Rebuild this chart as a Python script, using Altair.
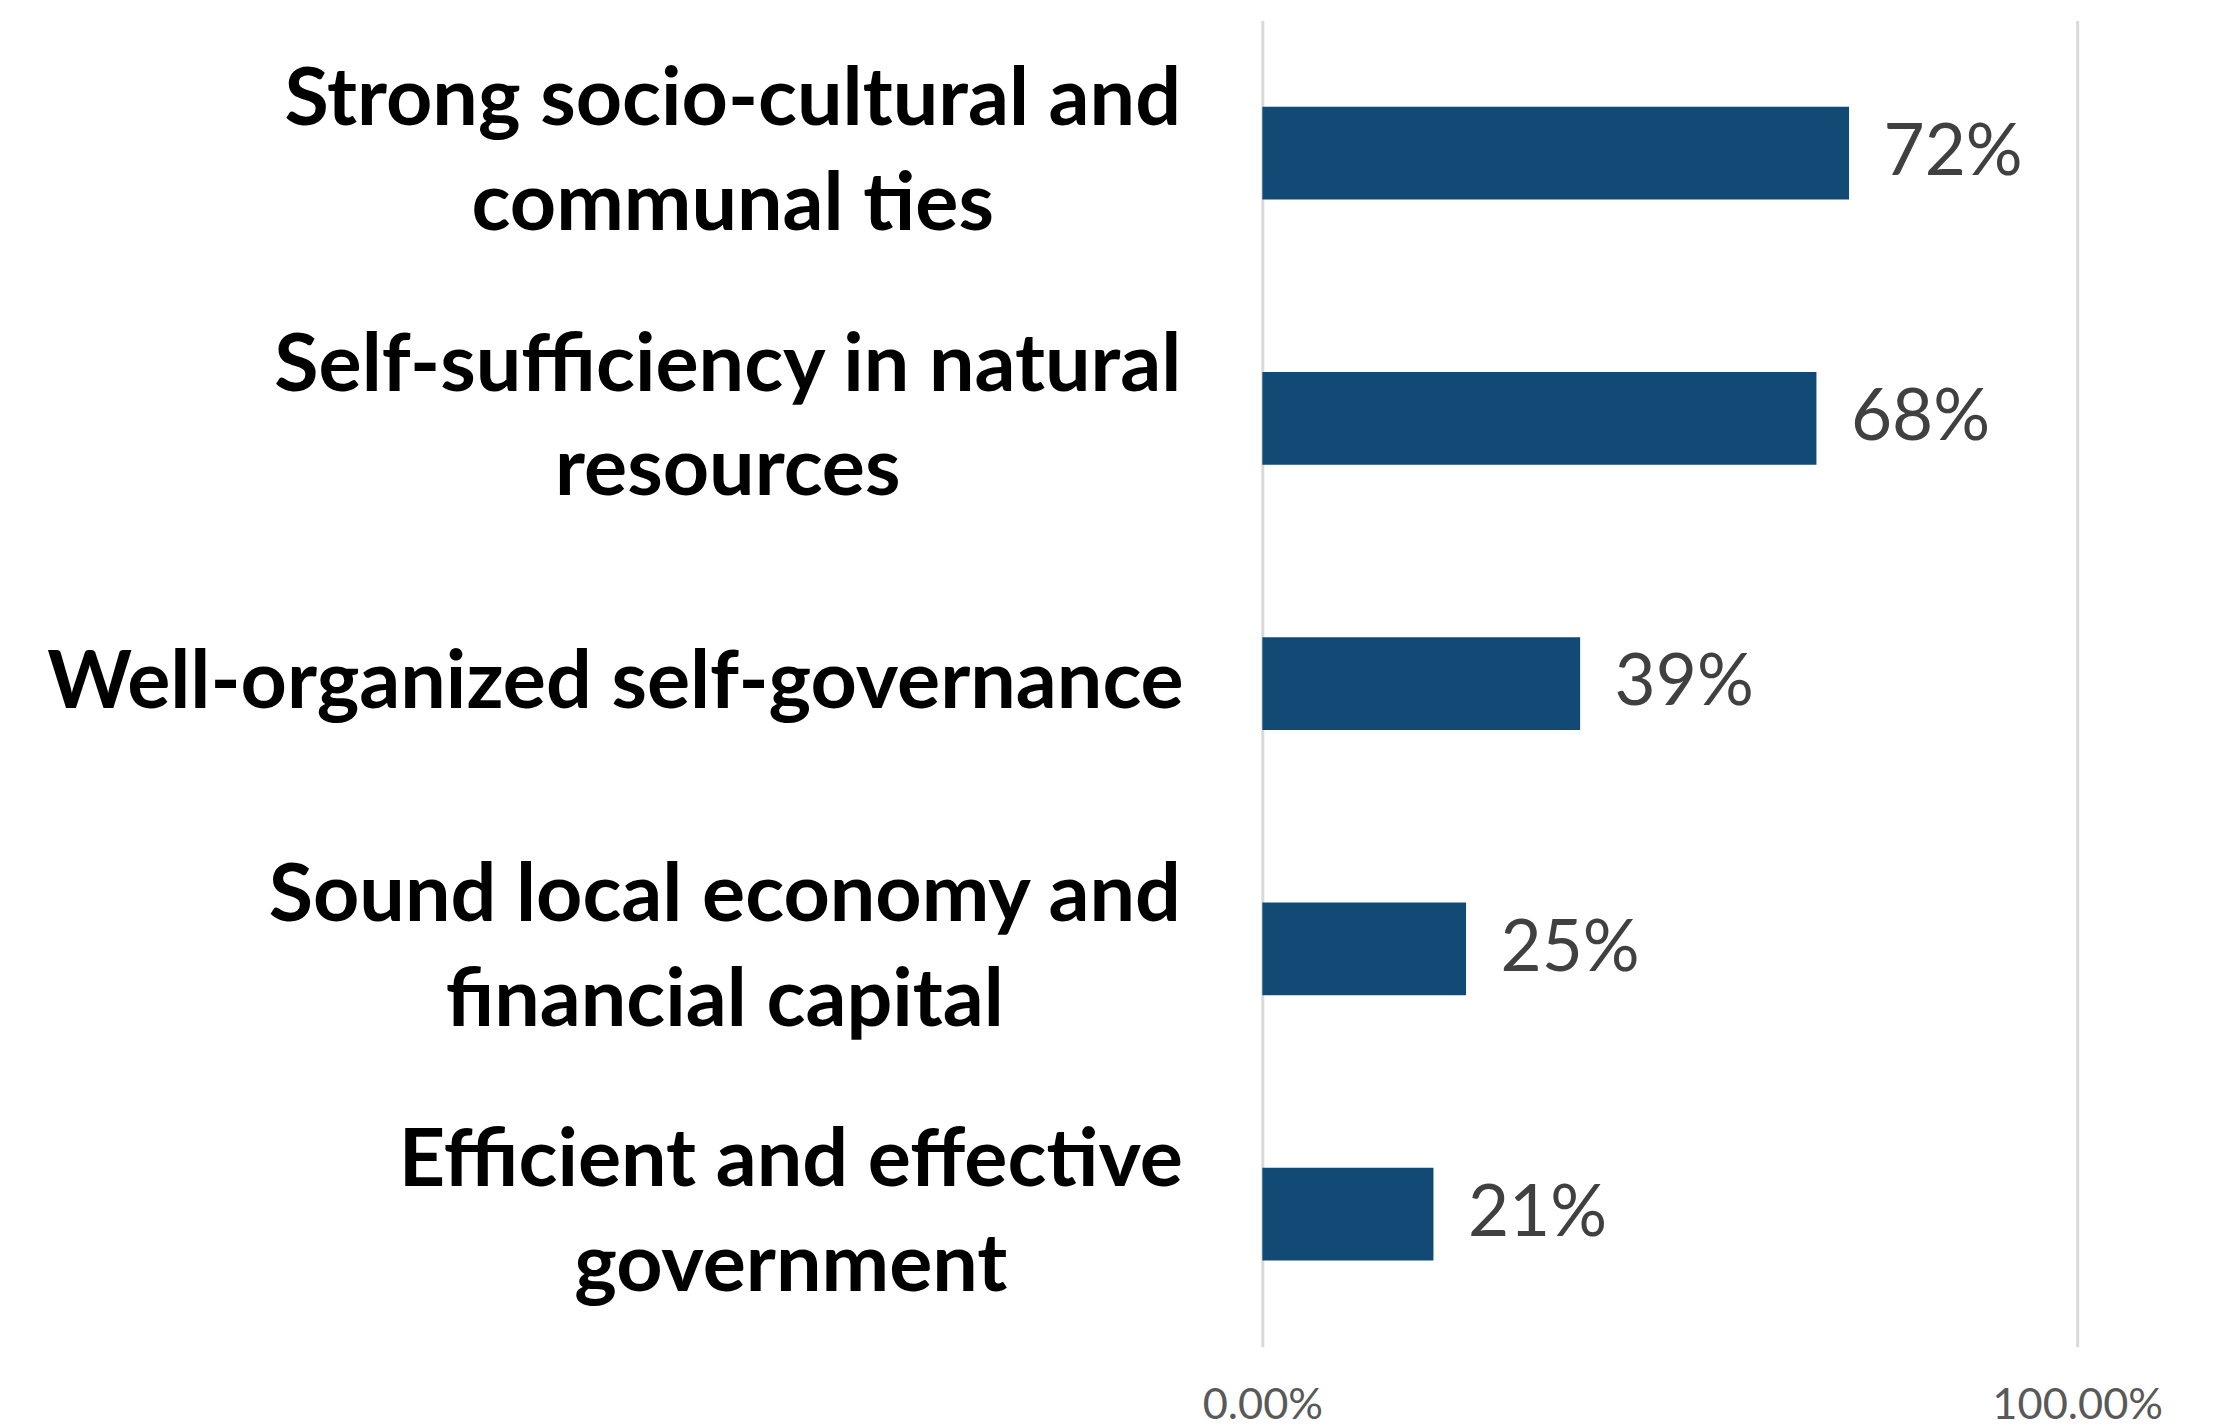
import altair as alt
import pandas as pd

categories = [
    "Strong socio-cultural and|communal ties",
    "Self-sufficiency in natural|resources",
    "Well-organized self-governance",
    "Sound local economy and|financial capital",
    "Efficient and effective|government",
]
values = [0.72, 0.68, 0.39, 0.25, 0.21]
value_labels = ["72%", "68%", "39%", "25%", "21%"]
x_ticks = [0, 1]

# distance from the axis to the centre of each (centred) label block
label_centre_gap = [538, 543, 657, 546, 479]

df = pd.DataFrame({"category": categories, "value": values, "label": value_labels})

pad_cond = {
    "condition": [
        {"test": f"datum.value === '{c}'", "value": g}
        for c, g in zip(categories, label_centre_gap)
    ],
    "value": 85,
}
offset_cond = {
    "condition": {"test": "indexof(datum.value, '|') >= 0", "value": -53},
    "value": 0,
}

y_enc = alt.Y(
    "category:N",
    sort=categories,
    title=None,
    scale=alt.Scale(paddingInner=0.65, paddingOuter=0.325),
    axis=alt.Axis(
        domain=False,
        ticks=False,
        grid=False,
        labelExpr="split(datum.label, '|')",
        labelFont="Lato",
        labelFontWeight="bold",
        labelFontSize=82,
        labelColor="#000000",
        labelLineHeight=106,
        labelPadding=pad_cond,
        labelOffset=offset_cond,
        labelLimit=1300,
        labelAlign="center",
        labelBaseline="middle",
    ),
)

x_enc = alt.X(
    "value:Q",
    title=None,
    scale=alt.Scale(domain=[0, 1], nice=False),
    axis=alt.Axis(
        values=x_ticks,
        format=".2%",
        domain=False,
        ticks=False,
        grid=True,
        gridColor="#d9d9d9",
        gridWidth=3,
        labelFont="Lato",
        labelFontSize=44,
        labelColor="#595959",
        labelPadding=38,
        labelFlush=False,
    ),
)

bars = alt.Chart(df).mark_bar(color="#114b75").encode(x=x_enc, y=y_enc)

text = alt.Chart(df).mark_text(
    align="left", baseline="middle", dx=35, font="Lato", fontSize=72, color="#404040"
).encode(x="value:Q", y=alt.Y("category:N", sort=categories), text="label:N")

chart = (
    alt.layer(bars, text)
    .properties(
        width=827,
        height=1346,
        background="white",
        autosize=alt.AutoSizeParams(type="none"),
        padding={"left": 1273, "top": 2, "right": 150, "bottom": 80},
    )
    .configure_view(strokeWidth=0, stroke="transparent")
)

chart.save("out.html", embed_options={"renderer": "svg", "actions": False})
